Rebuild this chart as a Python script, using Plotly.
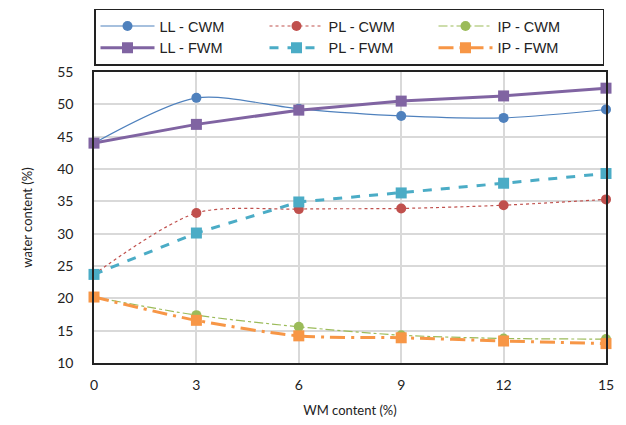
import plotly.graph_objects as go

wm_content = [0, 3, 6, 9, 12, 15]

ll_cwm = [44.0, 51.0, 49.3, 48.2, 47.9, 49.2]
pl_cwm = [23.7, 33.2, 33.8, 33.9, 34.4, 35.3]
ip_cwm = [20.2, 17.4, 15.6, 14.3, 13.8, 13.7]
ll_fwm = [44.0, 46.9, 49.1, 50.5, 51.3, 52.5]
pl_fwm = [23.7, 30.1, 34.9, 36.3, 37.8, 39.3]
ip_fwm = [20.2, 16.6, 14.2, 13.9, 13.4, 13.0]

series = [
    ("LL - CWM", ll_cwm, "#4F81BD", "solid", 1.2, "circle", 10, "spline"),
    ("PL - CWM", pl_cwm, "#C0504D", "dot", 1.2, "circle", 10, "spline"),
    ("IP - CWM", ip_cwm, "#9BBB59", "dashdot", 1.2, "circle", 10, "spline"),
    ("LL - FWM", ll_fwm, "#8064A2", "solid", 3, "square", 11, "linear"),
    ("PL - FWM", pl_fwm, "#4BACC6", "dash", 3, "square", 11, "linear"),
    ("IP - FWM", ip_fwm, "#F79646", "longdashdot", 3, "square", 11, "spline"),
]

fig = go.Figure()
for name, vals, color, dash, width, symbol, size, shape in series:
    fig.add_trace(go.Scatter(
        x=wm_content,
        y=vals,
        mode="lines+markers",
        name=name,
        line=dict(color=color, width=width, dash=dash, shape=shape, smoothing=0.8),
        marker=dict(color=color, symbol=symbol, size=size),
        cliponaxis=False,
    ))

axis_common = dict(
    showgrid=True,
    gridcolor="#D9D9D9",
    gridwidth=1.5,
    showline=True,
    linecolor="#222",
    linewidth=1.5,
    mirror=True,
    ticks="",
    zeroline=False,
    automargin=False,
    tickfont=dict(family="Lato", size=14, color="#222"),
)

fig.update_layout(
    width=626,
    height=425,
    margin=dict(l=86, r=28, t=64, b=70, autoexpand=False),
    paper_bgcolor="white",
    plot_bgcolor="white",
    font=dict(family="Lato", color="#222"),
    xaxis=dict(
        **axis_common,
        range=[0, 15],
        tickvals=wm_content,
        ticklabelstandoff=8,
        title=dict(text="WM content (%)", font=dict(size=13), standoff=14),
    ),
    yaxis=dict(
        **axis_common,
        range=[10, 55],
        dtick=5,
        ticklabelstandoff=16,
        title=dict(text="water content (%)", font=dict(size=13), standoff=22),
    ),
    legend=dict(
        orientation="h",
        x=0, xanchor="left",
        y=1.218, yanchor="top",
        entrywidth=100,
        itemwidth=54,
        bordercolor="#222",
        borderwidth=1.5,
        font=dict(family="Liberation Sans", size=14.5, color="#222"),
    ),
    showlegend=True,
)

fig.write_html("out.html")
